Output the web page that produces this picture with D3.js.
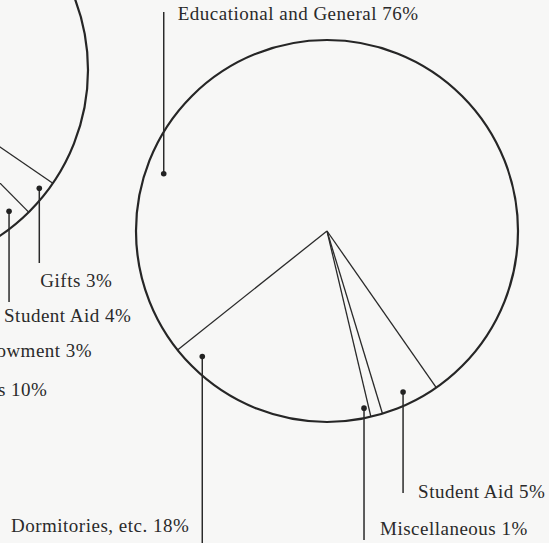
<!DOCTYPE html>
<html>
<head>
<meta charset="utf-8">
<script src="https://cdn.jsdelivr.net/npm/d3@7"></script>
<style>
  html, body { margin: 0; padding: 0; background: #f7f7f6; overflow: hidden; }
  svg { display: block; }
  text { font-family: "Liberation Serif", "Times New Roman", serif; font-size: 19px; fill: #2a2a2a; letter-spacing: 0.5px; }
</style>
</head>
<body>
<svg id="chart" width="549" height="543"></svg>
<script>
// right pie (fully on the page)
const spendCategories = ['Educational and General', 'Student Aid', 'Miscellaneous', 'Dormitories, etc.'];
const spendValues = [76, 5, 1, 18];

// left pie, only its lower-right edge is on this page
const incomeCategories = ['Other', 'Gifts', 'Student Aid', 'Endowment', 'Auxiliary Enterprises'];
const incomeValues = [80, 3, 4, 3, 10];

// callout layout: dot angle (deg, clockwise from 12 o'clock) + radius, then leader & text
const spendCallouts = [
  { name: 'Educational and General', angle: -70.7, r: 173, lineTo: 12, tx: 14, ty: 20, anchor: 'start' },
  { name: 'Student Aid', angle: 154.7, r: 178, lineTo: 493, tx: 15, ty: 498, anchor: 'start' },
  { name: 'Miscellaneous', angle: 168.2, r: 181, lineTo: 540, tx: 16, ty: 535, anchor: 'start' },
  { name: 'Dormitories, etc.', angle: 224.8, r: 177, lineTo: 543, tx: -13, ty: 532, anchor: 'end' },
];
const incomeCallouts = [
  { name: 'Gifts', angle: 128, r: 192, lineTo: 263, tx: 1, ty: 287, anchor: 'start' },
  { name: 'Student Aid', angle: 139.4, r: 186, lineTo: 302, tx: -5, ty: 322, anchor: 'start' },
  { name: 'Endowment', angle: 155, r: 185, lineTo: 335, tx: 126, ty: 357, anchor: 'end' },
  { name: 'Auxiliary Enterprises', angle: 178, r: 185, lineTo: 375, tx: 153, ty: 396, anchor: 'end' },
];

const svg = d3.select('#chart');
const rad = deg => deg * Math.PI / 180;

function drawPie(cx, cy, radius, categories, values, startDeg, callouts) {
  const pie = d3.pie().sort(null).value(d => d.value).startAngle(rad(startDeg)).endAngle(rad(startDeg + 360));
  const arcs = pie(categories.map((c, i) => ({ name: c, value: values[i] })));
  const g = svg.append('g').attr('transform', `translate(${cx},${cy})`);

  // slice boundaries
  g.selectAll('line.radius')
    .data(arcs)
    .join('line')
    .attr('class', 'radius')
    .attr('x1', 0).attr('y1', 0)
    .attr('x2', d => d3.pointRadial(d.startAngle, radius)[0])
    .attr('y2', d => d3.pointRadial(d.startAngle, radius)[1])
    .attr('stroke', '#2a2a2a').attr('stroke-width', 1.3);

  g.append('circle')
    .attr('r', radius)
    .attr('fill', 'none').attr('stroke', '#262626').attr('stroke-width', 2.2);

  const byName = new Map(arcs.map(a => [a.data.name, a]));
  const co = g.selectAll('g.callout')
    .data(callouts)
    .join('g')
    .attr('class', 'callout')
    .attr('transform', d => {
      const [x, y] = d3.pointRadial(rad(d.angle), d.r);
      return `translate(${x},${y})`;
    });

  co.append('line')
    .attr('x1', 0).attr('y1', 0)
    .attr('x2', 0).attr('y2', d => d.lineTo - cy - d3.pointRadial(rad(d.angle), d.r)[1])
    .attr('stroke', '#2a2a2a').attr('stroke-width', 1.5);

  co.append('circle').attr('r', 2.8).attr('fill', '#222');

  co.append('text')
    .attr('x', d => d.tx)
    .attr('y', d => d.ty - cy - d3.pointRadial(rad(d.angle), d.r)[1])
    .attr('text-anchor', d => d.anchor)
    .text(d => `${d.name} ${byName.get(d.name).value}%`);
}

drawPie(-112, 70, 200, incomeCategories, incomeValues, -163.5, incomeCallouts);
drawPie(327, 231, 191, spendCategories, spendValues, -128.5, spendCallouts);
</script>
</body>
</html>
